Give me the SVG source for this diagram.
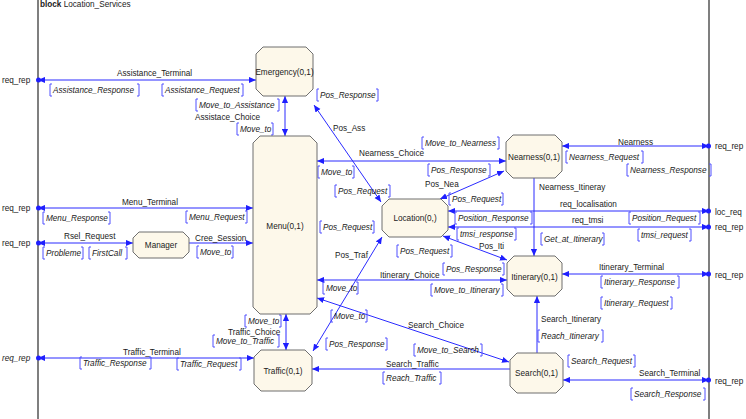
<svg xmlns="http://www.w3.org/2000/svg" width="746" height="419" viewBox="0 0 746 419">
<defs>
<marker id="ar" viewBox="0 0 8 8" refX="8" refY="4" markerWidth="7" markerHeight="7" orient="auto-start-reverse" markerUnits="userSpaceOnUse"><path d="M0,0.5 L8,4 L0,7.5 z" fill="#1f1fff"/></marker>
<style>
.fr{stroke:#555;stroke-width:1.5;fill:none}
.n{fill:#fdf8ea;stroke:#6f6f6f;stroke-width:1}
.t{font-family:"Liberation Sans",Arial,sans-serif;font-size:8.2px;fill:#1a1a1a;text-anchor:middle}
.c{stroke:#2b2bff;stroke-width:1;fill:none}
.b2{marker-start:url(#ar);marker-end:url(#ar)}
.e{marker-end:url(#ar)}
.d{fill:#1f1fff}
.l{font-family:"Liberation Sans",Arial,sans-serif;font-size:8.2px;fill:#1a1a1a}
.s{font-family:"Liberation Sans",Arial,sans-serif;font-size:8.2px;font-style:italic;fill:#1a1a1a}
.br{stroke:#5050ff;stroke-width:1;fill:none}
</style>
</defs>
<rect width="746" height="419" fill="#fff"/>
<g id="frame">
<line class="fr" x1="38" y1="0" x2="38" y2="419"/>
<line class="fr" x1="709" y1="0" x2="709" y2="419"/>
<text class="l" x="40" y="7"><tspan font-weight="bold">block</tspan> Location_Services</text>
<text class="l" x="2" y="83">req_rep</text>
<text class="l" x="2" y="211">req_rep</text>
<text class="l" x="2" y="246">req_rep</text>
<text class="l" x="2" y="361" font-style="italic">req_rep</text>
<text class="l" x="715" y="149">req_rep</text>
<text class="l" x="715" y="215">loc_req</text>
<text class="l" x="715" y="230">req_rep</text>
<text class="l" x="715" y="278">req_rep</text>
<text class="l" x="715" y="384">req_rep</text>
</g>
<g id="connectors">
<path class="c b2" d="M38,80H256"/><circle class="d" cx="38.5" cy="80" r="2.5"/>
<path class="c b2" d="M285,96V136"/>
<path class="c b2" d="M314,105L381,202"/>
<path class="c b2" d="M317,161H506"/>
<path class="c b2" d="M440,199L504,171"/>
<path class="c b2" d="M38,208H253"/><circle class="d" cx="38.5" cy="208" r="2.5"/>
<path class="c b2" d="M38,243H133"/><circle class="d" cx="38.5" cy="243" r="2.5"/>
<path class="c e" d="M189,243H253"/>
<path class="c b2" d="M448,211H709"/><circle class="d" cx="708.5" cy="211" r="2.5"/>
<path class="c b2" d="M448,227H709"/><circle class="d" cx="708.5" cy="227" r="2.5"/>
<path class="c b2" d="M562,146H709"/><circle class="d" cx="708.5" cy="146" r="2.5"/>
<path class="c e" d="M534,178V256"/>
<path class="c b2" d="M443,236L507,260"/>
<path class="c b2" d="M317,280H507"/>
<path class="c b2" d="M562,274H709"/><circle class="d" cx="708.5" cy="274" r="2.5"/>
<path class="c b2" d="M382,237L313,351"/>
<path class="c b2" d="M317,298L509,362"/>
<path class="c b2" d="M286,314V350"/>
<path class="c b2" d="M38,358H254"/><circle class="d" cx="38.5" cy="358" r="2.5"/>
<path class="c e" d="M510,369H312"/>
<path class="c e" d="M537,353V296"/>
<path class="c b2" d="M563,380H709"/><circle class="d" cx="708.5" cy="380" r="2.5"/>
<g id="connector-labels">
<text class="l" x="117" y="76">Assistance_Terminal</text>
<text class="l" x="195" y="120">Assistace_Choice</text>
<text class="l" x="333" y="131">Pos_Ass</text>
<text class="l" x="359" y="156">Nearness_Choice</text>
<text class="l" x="425" y="187">Pos_Nea</text>
<text class="l" x="122" y="205">Menu_Terminal</text>
<text class="l" x="64" y="239">Rsel_Request</text>
<text class="l" x="195" y="241">Cree_Session</text>
<text class="l" x="618" y="145">Nearness</text>
<text class="l" x="539" y="190">Nearness_Itineray</text>
<text class="l" x="560" y="207">req_localisation</text>
<text class="l" x="572" y="223">req_tmsi</text>
<text class="l" x="479" y="249">Pos_Iti</text>
<text class="l" x="380" y="278">Itinerary_Choice</text>
<text class="l" x="599" y="270">Itinerary_Terminal</text>
<text class="l" x="335" y="258">Pos_Traf</text>
<text class="l" x="408" y="328">Search_Choice</text>
<text class="l" x="228" y="335">Traffic_Choice</text>
<text class="l" x="123" y="355">Traffic_Terminal</text>
<text class="l" x="386" y="367">Search_Traffic</text>
<text class="l" x="541" y="322">Search_Itinerary</text>
<text class="l" x="639" y="376">Search_Terminal</text>
</g>
<g id="signal-lists">
<path class="br" d="M52,84h-2v12h2M137,84h2v12h-2"/><text class="s" x="53" y="93">Assistance_Response</text>
<path class="br" d="M164,84h-2v12h2M241,84h2v12h-2"/><text class="s" x="165" y="93">Assistance_Request</text>
<path class="br" d="M198,99h-2v12h2M277,99h2v12h-2"/><text class="s" x="199" y="108">Move_to_Assistance</text>
<path class="br" d="M239,123h-2v12h2M271,123h2v12h-2"/><text class="s" x="240" y="132">Move_to</text>
<path class="br" d="M319,89h-2v12h2M376,89h2v12h-2"/><text class="s" x="320" y="98">Pos_Response</text>
<path class="br" d="M424,137h-2v12h2M497,137h2v12h-2"/><text class="s" x="425" y="146">Move_to_Nearness</text>
<path class="br" d="M320,166h-2v12h2M352,166h2v12h-2"/><text class="s" x="321" y="175">Move_to</text>
<path class="br" d="M337,185h-2v12h2M388,185h2v12h-2"/><text class="s" x="338" y="194">Pos_Request</text>
<path class="br" d="M430,164h-2v12h2M488,164h2v12h-2"/><text class="s" x="431" y="173">Pos_Response</text>
<path class="br" d="M451,193h-2v12h2M501,193h2v12h-2"/><text class="s" x="452" y="202">Pos_Request</text>
<path class="br" d="M457,212h-2v12h2M530,212h2v12h-2"/><text class="s" x="458" y="221">Position_Response</text>
<path class="br" d="M459,228h-2v12h2M514,228h2v12h-2"/><text class="s" x="460" y="237">tmsi_response</text>
<path class="br" d="M399,245h-2v12h2M450,245h2v12h-2"/><text class="s" x="400" y="254">Pos_Request</text>
<path class="br" d="M445,263h-2v12h2M502,263h2v12h-2"/><text class="s" x="446" y="272">Pos_Response</text>
<path class="br" d="M433,284h-2v12h2M501,284h2v12h-2"/><text class="s" x="434" y="293">Move_to_Itinerary</text>
<path class="br" d="M568,151h-2v12h2M641,151h2v12h-2"/><text class="s" x="569" y="160">Nearness_Request</text>
<path class="br" d="M629,164h-2v12h2M709,164h2v12h-2"/><text class="s" x="630" y="173">Nearness_Response</text>
<path class="br" d="M631,212h-2v12h2M698,212h2v12h-2"/><text class="s" x="632" y="221">Position_Request</text>
<path class="br" d="M640,229h-2v12h2M689,229h2v12h-2"/><text class="s" x="641" y="238">tmsi_request</text>
<path class="br" d="M543,233h-2v12h2M602,233h2v12h-2"/><text class="s" x="544" y="242">Get_at_Itinerary</text>
<path class="br" d="M45,212h-2v12h2M108,212h2v12h-2"/><text class="s" x="46" y="221">Menu_Response</text>
<path class="br" d="M188,211h-2v12h2M245,211h2v12h-2"/><text class="s" x="189" y="220">Menu_Request</text>
<path class="br" d="M45,247h-2v12h2M81,247h2v12h-2"/><text class="s" x="46" y="256">Probleme</text>
<path class="br" d="M91,247h-2v12h2M125,247h2v12h-2"/><text class="s" x="92" y="256">FirstCall</text>
<path class="br" d="M199,246h-2v12h2M231,246h2v12h-2"/><text class="s" x="200" y="255">Move_to</text>
<path class="br" d="M322,221h-2v12h2M372,221h2v12h-2"/><text class="s" x="323" y="230">Pos_Request</text>
<path class="br" d="M603,276h-2v12h2M677,276h2v12h-2"/><text class="s" x="604" y="285">Itinerary_Response</text>
<path class="br" d="M603,297h-2v12h2M670,297h2v12h-2"/><text class="s" x="604" y="306">Itinerary_Request</text>
<path class="br" d="M325,282h-2v12h2M356,282h2v12h-2"/><text class="s" x="326" y="291">Move_to</text>
<path class="br" d="M333,310h-2v12h2M365,310h2v12h-2"/><text class="s" x="334" y="319">Move_to</text>
<path class="br" d="M328,338h-2v12h2M385,338h2v12h-2"/><text class="s" x="329" y="347">Pos_Response</text>
<path class="br" d="M416,344h-2v12h2M480,344h2v12h-2"/><text class="s" x="417" y="353">Move_to_Search</text>
<path class="br" d="M385,372h-2v12h2M439,372h2v12h-2"/><text class="s" x="386" y="381">Reach_Traffic</text>
<path class="br" d="M247,315h-2v12h2M279,315h2v12h-2"/><text class="s" x="248" y="324">Move_to</text>
<path class="br" d="M215,335h-2v12h2M277,335h2v12h-2"/><text class="s" x="216" y="344">Move_to_Traffic</text>
<path class="br" d="M82,357h-2v12h2M149,357h2v12h-2"/><text class="s" x="83" y="366">Traffic_Response</text>
<path class="br" d="M179,358h-2v12h2M239,358h2v12h-2"/><text class="s" x="180" y="367">Traffic_Request</text>
<path class="br" d="M540,330h-2v12h2M601,330h2v12h-2"/><text class="s" x="541" y="339">Reach_Itinerary</text>
<path class="br" d="M570,355h-2v12h2M633,355h2v12h-2"/><text class="s" x="571" y="364">Search_Request</text>
<path class="br" d="M633,388h-2v12h2M703,388h2v12h-2"/><text class="s" x="634" y="397">Search_Response</text>
</g>
</g>
<g id="emergency"><path class="n" d="M263,47H306L313,54V89L306,96H263L256,89V54Z"/><text class="t" x="284.5" y="75">Emergency(0,1)</text></g>
<g id="menu"><path class="n" d="M260,136H310L317,143V307L310,314H260L253,307V143Z"/><text class="t" x="285" y="229">Menu(0,1)</text></g>
<g id="manager"><path class="n" d="M139,232H183L189,238V252L183,258H139L133,252V238Z"/><text class="t" x="161" y="248">Manager</text></g>
<g id="location"><path class="n" d="M389,199H441L448,206V230L441,237H389L382,230V206Z"/><text class="t" x="415" y="221">Location(0,)</text></g>
<g id="nearness"><path class="n" d="M513,135H555L562,142V171L555,178H513L506,171V142Z"/><text class="t" x="534" y="160">Nearness(0,1)</text></g>
<g id="itinerary"><path class="n" d="M514,256H555L562,263V289L555,296H514L507,289V263Z"/><text class="t" x="534.5" y="280">Itinerary(0,1)</text></g>
<g id="traffic"><path class="n" d="M261,350H305L312,357V384L305,391H261L254,384V357Z"/><text class="t" x="283" y="374">Traffic(0,1)</text></g>
<g id="search"><path class="n" d="M517,353H556L563,360V386L556,393H517L510,386V360Z"/><text class="t" x="536.5" y="376">Search(0,1)</text></g>
</svg>
